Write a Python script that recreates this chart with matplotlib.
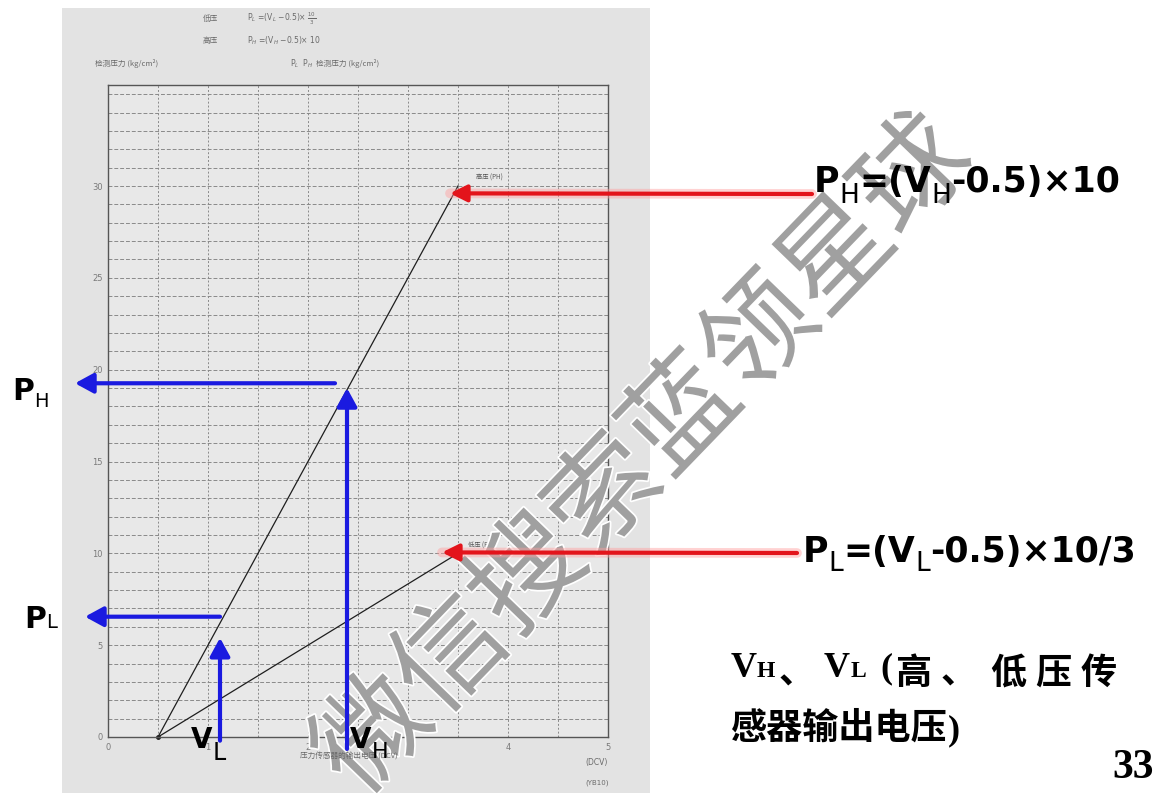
import matplotlib
matplotlib.use('Agg')
import matplotlib.pyplot as plt
import matplotlib.patheffects as pe
from matplotlib.patches import Rectangle
import numpy as np

# ---------------- data ----------------
volt_pts = [0.5, 3.5]          # sensor output voltage (V)
ph_pts = [0, 30]               # high pressure line (kg/cm2)
pl_pts = [0, 10]               # low pressure line (kg/cm2)
x_ticks = [0, 1, 2, 3, 4, 5]
y_ticks = [0, 5, 10, 15, 20, 25, 30]
# example readings shown with blue arrows
vh_read = 2.39
vh_tip = 19.0
ph_read = 19.26
ph_start = 2.27
vl_read = 1.12
vl_tip = 5.4
pl_read = 6.55
# red arrow tips (near line ends)
red_tip_x = [3.42, 3.34]
red_tip_y = [29.6, 10.05]

W, H = 1173, 793
CJK = ['Noto Sans CJK SC', 'DejaVu Sans']
plt.rcParams['font.family'] = ['DejaVu Sans', 'Noto Sans CJK SC']

fig = plt.figure(figsize=(W / 100, H / 100), dpi=100)
fig.patch.set_facecolor('white')

page = Rectangle((62 / W, 0), (650 - 62) / W, (793 - 8) / H, transform=fig.transFigure,
                 facecolor='#e3e3e3', edgecolor='none', zorder=-5)
fig.add_artist(page)

ax = fig.add_axes([108 / W, 1 - 737 / H, 500 / W, 652 / H])
ax.set_facecolor('#e8e8e8')
ax.set_xlim(0, 5)
ax.set_ylim(0, 35.5)
ax.set_xticks(x_ticks)
ax.set_xticks(np.arange(0, 5.01, 0.5), minor=True)
ax.set_yticks(y_ticks)
ax.set_yticks(np.arange(0, 35.1, 1), minor=True)
ax.tick_params(which='both', length=0, labelsize=6, labelcolor='#7a7a7a', pad=4)
ax.xaxis.grid(True, which='both', ls=(0, (2, 2)), color='#8a8a8a', lw=0.7)
ax.yaxis.grid(True, which='both', ls=(0, (4, 2)), color='#8a8a8a', lw=0.7)
ax.set_axisbelow(True)
for s in ax.spines.values():
    s.set_color('#555555')
    s.set_linewidth(1.0)

ax.plot(volt_pts, ph_pts, color='#1e1e1e', lw=0.9, zorder=2)
ax.plot(volt_pts, pl_pts, color='#1e1e1e', lw=0.9, zorder=2)
ax.plot(volt_pts[0], 0, 'o', ms=2.5, color='#1e1e1e', zorder=2, clip_on=False)

ax.annotate('高压 (PH)', xy=(volt_pts[1], ph_pts[1]), xytext=(18, 6), textcoords='offset pixels',
            fontsize=4.5, color='#555555', family=CJK)
ax.annotate('低压 (PL)', xy=(volt_pts[1], pl_pts[1]), xytext=(10, 6), textcoords='offset pixels',
            fontsize=4.5, color='#555555', family=CJK)

# watermark
ax.text(645 / W, 1 - 457 / H, '微信搜索蓝领星球', transform=fig.transFigure, fontsize=80,
        family=CJK, fontweight='normal', color='#a0a0a0', rotation=46,
        ha='center', va='center', rotation_mode='anchor', clip_on=False, zorder=3,
        path_effects=[pe.withStroke(linewidth=2.5, foreground='white')])

BLUE = '#1a1ae0'
RED = '#e3141b'
blue_props = dict(arrowstyle='-|>,head_length=0.55,head_width=0.3', color=BLUE, lw=3.0,
                  shrinkA=0, shrinkB=0, mutation_scale=20)

# V_H vertical
ax.annotate('', xy=(vh_read, vh_tip), xytext=(vh_read, -0.65), arrowprops=blue_props,
            annotation_clip=False, zorder=6)
# P_H horizontal
ax.annotate('', xy=(-0.33, ph_read), xytext=(ph_start, ph_read), arrowprops=blue_props,
            annotation_clip=False, zorder=6)
# V_L vertical
ax.annotate('', xy=(vl_read, vl_tip), xytext=(vl_read, -0.2), arrowprops=blue_props,
            annotation_clip=False, zorder=6)
# P_L horizontal
ax.annotate('', xy=(-0.23, pl_read), xytext=(vl_read, pl_read), arrowprops=blue_props,
            annotation_clip=False, zorder=6)

# red arrows
red_tails = [(812, H - 194), (797, H - 553)]
for tx, ty, tail in zip(red_tip_x, red_tip_y, red_tails):
    ax.annotate('', xy=(tx, ty), xytext=tail, textcoords='figure pixels',
                arrowprops=dict(arrowstyle='-', color='#ff9d9d', lw=7, alpha=0.45,
                                shrinkA=0, shrinkB=0),
                annotation_clip=False, zorder=5)
    ax.annotate('', xy=(tx, ty), xytext=tail, textcoords='figure pixels',
                arrowprops=dict(arrowstyle='-|>,head_length=0.5,head_width=0.25', color=RED,
                                lw=3, shrinkA=0, shrinkB=0, mutation_scale=20),
                annotation_clip=False, zorder=6)

renderer = fig.canvas.get_renderer()


def rich(x, base_y, segs, color='black'):
    for s, size, weight, dy, fam in segs:
        t = fig.text(x / W, 1 - (base_y + dy) / H, s, fontsize=size, fontweight=weight,
                     family=fam, va='baseline', ha='left', color=color, zorder=10)
        bb = t.get_window_extent(renderer)
        x += bb.width


def place(x, base_y, s, size, weight, fam, color='black'):
    fig.text(x / W, 1 - base_y / H, s, fontsize=size, fontweight=weight,
             family=fam, va='baseline', ha='left', color=color, zorder=10)


SANS = ['DejaVu Sans']
SERIF = ['Liberation Serif', 'Noto Sans CJK SC']

rich(12, 400, [('P', 21.5, 'bold', 0, SANS), ('H', 14, 'normal', 7, SANS)])
rich(24, 628, [('P', 21.5, 'bold', 0, SANS), ('L', 14, 'normal', 0, SANS)])
rich(191, 748, [('V', 20, 'bold', 0, SANS), ('L', 17, 'normal', 12, SANS)])
rich(350, 748, [('V', 20, 'bold', 0, SANS), ('H', 16, 'normal', 10, SANS)])

rich(814, 192, [('P', 25, 'bold', 0, SANS), ('H', 19, 'normal', 11, SANS),
                ('=(V', 25, 'bold', 0, SANS), ('H', 19, 'normal', 11, SANS),
                ('-0.5)×10', 25, 'bold', 0, SANS)])
rich(803, 562, [('P', 25, 'bold', 0, SANS), ('L', 19, 'normal', 9, SANS),
                ('=(V', 25, 'bold', 0, SANS), ('L', 19, 'normal', 9, SANS),
                ('-0.5)×10/3', 25, 'bold', 0, SANS)])

# justified serif note
line1 = [('V', 731, 677, 26, SERIF), ('H', 757, 677, 17, SERIF), ('、', 779, 684, 26, CJK),
         ('V', 824, 677, 26, SERIF), ('L', 851, 677, 17, SERIF), ('(', 880, 677, 26, SERIF),
         ('高', 895, 684, 26, CJK), ('、', 941, 684, 26, CJK), ('低', 990, 684, 26, CJK),
         ('压', 1035, 684, 26, CJK), ('传', 1081, 684, 26, CJK)]
for s, x, y, size, fam in line1:
    place(x, y, s, size, 'bold', fam)
rich(731, 739, [('感器输出电压', 26, 'bold', 0, CJK), (')', 26, 'bold', 0, SERIF)])
rich(1112, 778, [('33', 30, 'bold', 0, SERIF)])

# small texts on the scanned sheet
SM = dict(fontsize=5.5, color='#6a6a6a', va='center')
fig.text(203 / W, 1 - 19 / H, '低压', family=CJK, **SM)
fig.text(247 / W, 1 - 19 / H, r'P$_L$ =(V$_L$ −0.5)× $\frac{10}{3}$', **SM)
fig.text(203 / W, 1 - 41 / H, '高压', family=CJK, **SM)
fig.text(247 / W, 1 - 41 / H, r'P$_H$ =(V$_H$ −0.5)× 10', **SM)
fig.text(95 / W, 1 - 64 / H, '检测压力 (kg/cm²)', family=CJK, **SM)
fig.text(290 / W, 1 - 64 / H, r'P$_L$  P$_H$', **SM)
fig.text(316 / W, 1 - 64 / H, '检测压力 (kg/cm²)', family=CJK, **SM)
fig.text(349 / W, 1 - 757 / H, '压力传感器的输出电压 (DCV)', family=CJK, ha='center',
         fontsize=5.5, color='#6a6a6a', va='center')
fig.text(597 / W, 1 - 762 / H, '(DCV)', ha='center', fontsize=5.5, color='#6a6a6a', va='center')
fig.text(597 / W, 1 - 783 / H, '(YB10)', ha='center', fontsize=5, color='#6a6a6a', va='center')

fig.savefig('out.png', dpi=100, facecolor='white')
